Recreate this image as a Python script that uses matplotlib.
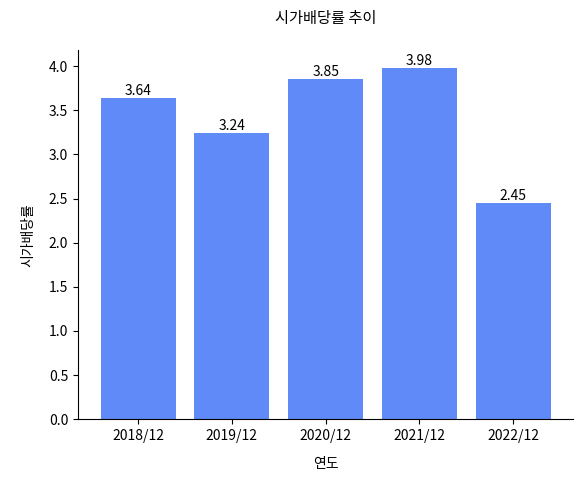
import matplotlib
matplotlib.use("Agg")
import matplotlib.pyplot as plt

plt.rcParams['font.family'] = ['Noto Sans CJK KR', 'DejaVu Sans']

years = ['2018/12', '2019/12', '2020/12', '2021/12', '2022/12']
rates = [3.64, 3.24, 3.85, 3.98, 2.45]

fig = plt.figure(figsize=(5.82, 4.79), dpi=100)
ax = fig.add_axes([0.134, 0.125, 0.851, 0.77])

bars = ax.bar(years, rates, color='#5f8af7', width=0.8)
for b, v in zip(bars, rates):
    ax.text(b.get_x() + b.get_width() / 2, v, f'{v:.2f}', ha='center', va='bottom', fontsize=10)

ax.set_ylim(0, 4.18)
ax.set_title('시가배당률 추이', pad=20, fontsize=11)
ax.set_xlabel('연도', labelpad=10)
ax.set_ylabel('시가배당률', labelpad=10)
ax.spines['top'].set_visible(False)
ax.spines['right'].set_visible(False)

fig.savefig('out.png', dpi=100)
